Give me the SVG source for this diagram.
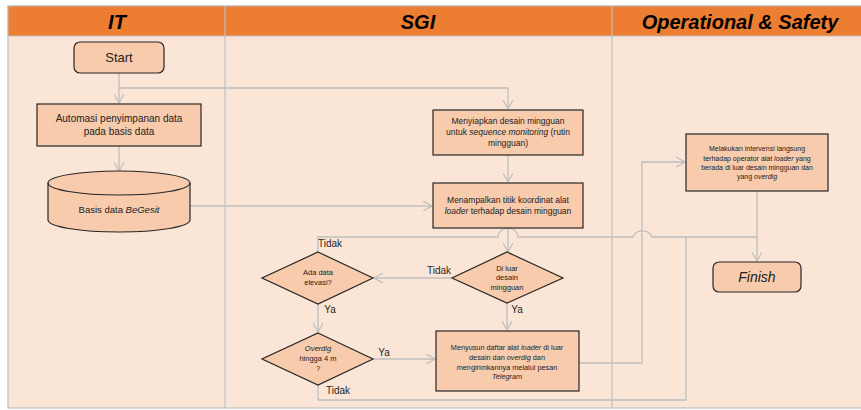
<svg xmlns="http://www.w3.org/2000/svg" width="861" height="410" viewBox="0 0 861 410">
<defs>
<marker id="arr" viewBox="0 0 10 10" refX="9" refY="5" markerWidth="10" markerHeight="10" markerUnits="userSpaceOnUse" orient="auto">
<path d="M0,0 L9,5 L0,10" fill="none" stroke="#BFBFBF" stroke-width="1.2"/>
</marker>
<style>
.lane{fill:#FBE5D6;stroke:#BFBFBF;stroke-width:1.2}
.hdr{fill:#ED7D31;stroke:#BFBFBF;stroke-width:1}
.ht{font-family:"Liberation Sans",Arial,sans-serif;font-weight:bold;font-style:italic;font-size:20px;fill:#000;text-anchor:middle}
.box{fill:#F8CBAD;stroke:#262626;stroke-width:1.2}
.t{font-family:"Liberation Sans",Arial,sans-serif;fill:#222;text-anchor:middle}
.c{fill:none;stroke:#BFBFBF;stroke-width:1.3}
.lbl{font-family:"Liberation Sans",Arial,sans-serif;font-size:10px;fill:#262626;text-anchor:middle}
</style>
</defs>
<rect width="861" height="410" fill="#FFFFFF"/>
<g id="lanes">
<rect class="lane" x="8" y="6" width="860" height="402"/>
<rect class="hdr" x="8" y="6" width="860" height="30"/>
<line x1="225" y1="6" x2="225" y2="408" stroke="#BFBFBF" stroke-width="1.2"/>
<line x1="612" y1="6" x2="612" y2="408" stroke="#BFBFBF" stroke-width="1.2"/>
<text class="ht" x="117" y="29">IT</text>
<text class="ht" x="418" y="29">SGI</text>
<text class="ht" x="740" y="29">Operational &amp; Safety</text>
</g>
<g id="connectors">
<path class="c" d="M119,73 V103" marker-end="url(#arr)"/>
<path class="c" d="M119,88 H508 V109" marker-end="url(#arr)"/>
<path class="c" d="M119,146 V171" marker-end="url(#arr)"/>
<path class="c" d="M190,206 H432" marker-end="url(#arr)"/>
<path class="c" d="M508,155 V182" marker-end="url(#arr)"/>
<path class="c" d="M508,228 V252" marker-end="url(#arr)"/>
<path class="c" d="M452,278 H374" marker-end="url(#arr)"/>
<path class="c" d="M318,252 V237 H498 A10,9 0 0 1 518,237 H633 A10,9 0 0 1 652,237 H757 V261" marker-end="url(#arr)"/>
<path class="c" d="M757,191 V237"/>
<path class="c" d="M318,304 V332" marker-end="url(#arr)"/>
<path class="c" d="M507,303 V330" marker-end="url(#arr)"/>
<path class="c" d="M373,359 H435" marker-end="url(#arr)"/>
<path class="c" d="M318,385 V400 H686 V237"/>
<path class="c" d="M579,363 H642 V162 H685" marker-end="url(#arr)"/>
<text class="lbl" x="330" y="247">Tidak</text>
<text class="lbl" x="439" y="274">Tidak</text>
<text class="lbl" x="330" y="313">Ya</text>
<text class="lbl" x="517" y="313">Ya</text>
<text class="lbl" x="384" y="356">Ya</text>
<text class="lbl" x="338" y="394">Tidak</text>
</g>
<g id="start">
<rect class="box" x="74" y="42" width="90" height="31" rx="6"/>
<text class="t" x="119" y="62" font-size="13">Start</text>
</g>
<g id="automasi">
<rect class="box" x="37" y="104" width="164" height="42"/>
<text class="t" x="119" y="122" font-size="10">Automasi penyimpanan data</text>
<text class="t" x="119" y="135" font-size="10">pada basis data</text>
</g>
<g id="basisdata">
<path class="box" d="M48,183 V220 A71,12 0 0 0 190,220 V183 A71,12 0 0 0 48,183 Z"/>
<path d="M48,183 A71,12 0 0 0 190,183" fill="none" stroke="#262626" stroke-width="1.2"/>
<text class="t" x="119" y="213" font-size="9.5">Basis data <tspan font-style="italic">BeGesit</tspan></text>
</g>
<g id="menyiapkan">
<rect class="box" x="433" y="110" width="150" height="45"/>
<text class="t" x="508" y="124" font-size="8.5">Menyiapkan  desain  mingguan</text>
<text class="t" x="508" y="135" font-size="8.5">untuk <tspan font-style="italic">sequence monitoring</tspan> (rutin</text>
<text class="t" x="508" y="146" font-size="8.5">mingguan)</text>
</g>
<g id="menampalkan">
<rect class="box" x="433" y="183" width="150" height="45"/>
<text class="t" x="508" y="203" font-size="8.5">Menampalkan  titik koordinat alat</text>
<text class="t" x="508" y="214" font-size="8.5"><tspan font-style="italic">loader</tspan> terhadap  desain mingguan</text>
</g>
<g id="diluar">
<polygon class="box" points="507,252 563,278 507,303 452,278"/>
<text class="t" x="507" y="271" font-size="7.5">Di luar</text>
<text class="t" x="507" y="280" font-size="7.5">desain</text>
<text class="t" x="507" y="290" font-size="7.5">mingguan</text>
</g>
<g id="adadata">
<polygon class="box" points="318,252 373,278 318,304 262,278"/>
<text class="t" x="318" y="275" font-size="7.5">Ada data</text>
<text class="t" x="318" y="285" font-size="7.5">elevasi?</text>
</g>
<g id="overdig">
<polygon class="box" points="318,333 373,359 318,385 262,359"/>
<text class="t" x="318" y="351" font-size="7.5" font-style="italic">Overdig</text>
<text class="t" x="318" y="361" font-size="7.5">hingga 4 m</text>
<text class="t" x="318" y="371" font-size="7.5">?</text>
</g>
<g id="menyusun">
<rect class="box" x="436" y="331" width="143" height="60"/>
<text class="t" x="507" y="350" font-size="7.3">Menyusun daftar alat <tspan font-style="italic">loader</tspan> di luar</text>
<text class="t" x="507" y="360" font-size="7.3">desain dan <tspan font-style="italic">overdig</tspan> dan</text>
<text class="t" x="507" y="370" font-size="7.3">mengirimkannya melalui pesan</text>
<text class="t" x="507" y="379" font-size="7.3" font-style="italic">Telegram</text>
</g>
<g id="melakukan">
<rect class="box" x="686" y="134" width="142" height="57"/>
<text class="t" x="757" y="151" font-size="7">Melakukan intervensi langsung</text>
<text class="t" x="757" y="161" font-size="7">terhadap operator alat <tspan font-style="italic">loader</tspan> yang</text>
<text class="t" x="757" y="170" font-size="7">berada di luar desain mingguan dan</text>
<text class="t" x="757" y="179" font-size="7">yang <tspan font-style="italic">overdig</tspan></text>
</g>
<g id="finish">
<rect class="box" x="713" y="262" width="88" height="30" rx="6"/>
<text class="t" x="757" y="282" font-size="14" font-style="italic">Finish</text>
</g>
</svg>
